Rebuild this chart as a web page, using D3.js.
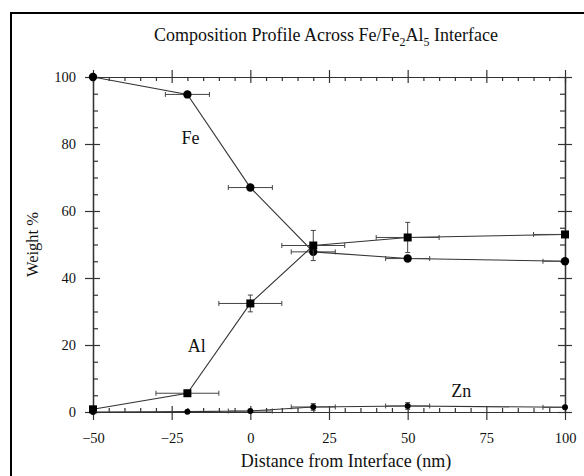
<!DOCTYPE html>
<html>
<head>
<meta charset="utf-8">
<script src="https://cdn.jsdelivr.net/npm/d3@7"></script>
<style>
  body { margin: 0; background: #fff; }
  text { font-family: "Liberation Serif", "Times New Roman", serif; fill: #111; }
  .axis path, .axis line { stroke: #333; stroke-width: 1.2; }
  .axis text { font-size: 14.5px; }
</style>
</head>
<body>
<div id="chart"></div>
<script>
// Data
const distances = [-50, -20, 0, 20, 50, 100];
const feValues = [100, 94.8, 67, 47.8, 45.8, 45];
const alValues = [0.8, 5.6, 32.4, 49.7, 52.1, 53];
const znValues = [0, 0.1, 0.3, 1.5, 1.8, 1.4];
const feXErr = [0, 7, 7, 7, 7, 7];
const feYErr = [0, 0, 0, 0, 0, 0];
const alXErr = [0, 10, 10, 10, 10, 10];
const alYErr = [0, 0, 2.5, 4.5, 4.5, 0];
const znXErr = [0, 0, 7, 7, 7, 7];
const znYErr = [0, 0, 0, 1, 1, 0];
const xTicks = [-50, -25, 0, 25, 50, 75, 100];
const yTicks = [0, 20, 40, 60, 80, 100];

const width = 584;
const height = 476;
const marginLeft = 93;
const marginRight = 19;
const marginTop = 77;
const marginBottom = 64;

const svg = d3.select("#chart")
  .append("svg")
  .attr("width", width)
  .attr("height", height);

// outer frame (only left/top edges fall inside the picture)
svg.append("rect")
  .attr("x", 11).attr("y", 13)
  .attr("width", 620).attr("height", 520)
  .attr("fill", "none").attr("stroke", "#000").attr("stroke-width", 2);

const x = d3.scaleLinear().domain([-50, 100]).range([marginLeft, width - marginRight]);
const y = d3.scaleLinear().domain([0, 100]).range([height - marginBottom, marginTop]);

const xMinor = d3.range(-50, 101, 5).filter(v => !xTicks.includes(v));
const yMinor = d3.range(0, 101, 5).filter(v => !yTicks.includes(v));

const bottomY = y(0), topY = y(100), leftX = x(-50), rightX = x(100);

// bottom axis: labels + crossing major ticks + inward minor ticks
svg.append("g").attr("class", "axis")
  .attr("transform", `translate(0,${bottomY})`)
  .call(d3.axisBottom(x).tickValues(xTicks).tickSize(8).tickSizeOuter(0).tickPadding(13));
svg.append("g").attr("class", "axis")
  .attr("transform", `translate(0,${bottomY})`)
  .call(d3.axisTop(x).tickValues(xTicks).tickSize(6).tickSizeOuter(0).tickFormat(""));
svg.append("g").attr("class", "axis")
  .attr("transform", `translate(0,${bottomY})`)
  .call(d3.axisTop(x).tickValues(xMinor).tickSize(4).tickSizeOuter(0).tickFormat(""));

// top axis
svg.append("g").attr("class", "axis")
  .attr("transform", `translate(0,${topY})`)
  .call(d3.axisTop(x).tickValues(xTicks).tickSize(7).tickSizeOuter(0).tickFormat(""));
svg.append("g").attr("class", "axis")
  .attr("transform", `translate(0,${topY})`)
  .call(d3.axisBottom(x).tickValues(xTicks).tickSize(6).tickSizeOuter(0).tickFormat(""));
svg.append("g").attr("class", "axis")
  .attr("transform", `translate(0,${topY})`)
  .call(d3.axisBottom(x).tickValues(xMinor).tickSize(4).tickSizeOuter(0).tickFormat(""));

// left axis
svg.append("g").attr("class", "axis")
  .attr("transform", `translate(${leftX},0)`)
  .call(d3.axisLeft(y).tickValues(yTicks).tickSize(8).tickSizeOuter(0).tickPadding(9));
svg.append("g").attr("class", "axis")
  .attr("transform", `translate(${leftX},0)`)
  .call(d3.axisRight(y).tickValues(yTicks).tickSize(7).tickSizeOuter(0).tickFormat(""));
svg.append("g").attr("class", "axis")
  .attr("transform", `translate(${leftX},0)`)
  .call(d3.axisRight(y).tickValues(yMinor).tickSize(5).tickSizeOuter(0).tickFormat(""));

// right axis
svg.append("g").attr("class", "axis")
  .attr("transform", `translate(${rightX},0)`)
  .call(d3.axisRight(y).tickValues(yTicks).tickSize(7).tickSizeOuter(0).tickFormat(""));
svg.append("g").attr("class", "axis")
  .attr("transform", `translate(${rightX},0)`)
  .call(d3.axisLeft(y).tickValues(yTicks).tickSize(7).tickSizeOuter(0).tickFormat(""));
svg.append("g").attr("class", "axis")
  .attr("transform", `translate(${rightX},0)`)
  .call(d3.axisLeft(y).tickValues(yMinor).tickSize(5).tickSizeOuter(0).tickFormat(""));

svg.selectAll(".axis .domain").attr("stroke-width", 1.5);

// series
const series = [
  { name: "Fe", values: feValues, xErr: feXErr, yErr: feYErr, shape: "circle" },
  { name: "Al", values: alValues, xErr: alXErr, yErr: alYErr, shape: "square" },
  { name: "Zn", values: znValues, xErr: znXErr, yErr: znYErr, shape: "small" }
];

const line = d3.line().x(d => x(d[0])).y(d => y(d[1]));
const capHalf = 2.5;

series.forEach(s => {
  const pts = distances.map((d, i) => [d, s.values[i], s.xErr[i], s.yErr[i]]);
  const g = svg.append("g");

  g.append("path")
    .datum(pts)
    .attr("d", line)
    .attr("fill", "none")
    .attr("stroke", "#333")
    .attr("stroke-width", 1.1);

  // horizontal error bars
  pts.filter(p => p[2] > 0).forEach(p => {
    const x0 = x(Math.max(-50, p[0] - p[2]));
    const x1 = x(Math.min(100, p[0] + p[2]));
    const yy = y(p[1]);
    g.append("line").attr("x1", x0).attr("x2", x1).attr("y1", yy).attr("y2", yy)
      .attr("stroke", "#444").attr("stroke-width", 1);
    g.append("line").attr("x1", x0).attr("x2", x0).attr("y1", yy - capHalf).attr("y2", yy + capHalf)
      .attr("stroke", "#444").attr("stroke-width", 1);
    if (p[0] + p[2] <= 100) {
      g.append("line").attr("x1", x1).attr("x2", x1).attr("y1", yy - capHalf).attr("y2", yy + capHalf)
        .attr("stroke", "#444").attr("stroke-width", 1);
    }
  });

  // vertical error bars
  pts.filter(p => p[3] > 0).forEach(p => {
    const xx = x(p[0]);
    const y0 = y(p[1] - p[3]);
    const y1 = y(p[1] + p[3]);
    g.append("line").attr("x1", xx).attr("x2", xx).attr("y1", y0).attr("y2", y1)
      .attr("stroke", "#444").attr("stroke-width", 1);
    [y0, y1].forEach(v => {
      g.append("line").attr("x1", xx - capHalf).attr("x2", xx + capHalf).attr("y1", v).attr("y2", v)
        .attr("stroke", "#444").attr("stroke-width", 1);
    });
  });

  // markers
  if (s.shape === "square") {
    g.selectAll("rect").data(pts).enter().append("rect")
      .attr("x", d => x(d[0]) - 4).attr("y", d => y(d[1]) - 4)
      .attr("width", 8).attr("height", 8).attr("fill", "#000");
  } else {
    g.selectAll("circle").data(pts).enter().append("circle")
      .attr("cx", d => x(d[0])).attr("cy", d => y(d[1]))
      .attr("r", s.shape === "circle" ? 4.2 : 3).attr("fill", "#000");
  }
});

// series labels
const labels = [
  { text: "Fe", at: [-19, 80] },
  { text: "Al", at: [-17, 18] },
  { text: "Zn", at: [67, 4.5] }
];
svg.selectAll(".series-label").data(labels).enter().append("text")
  .attr("class", "series-label")
  .attr("x", d => x(d.at[0])).attr("y", d => y(d.at[1]))
  .attr("text-anchor", "middle")
  .style("font-size", "18px")
  .text(d => d.text);

// title with subscripts
const title = svg.append("text")
  .attr("x", (leftX + rightX) / 2 - 3)
  .attr("y", 41)
  .attr("text-anchor", "middle")
  .style("font-size", "18px");
title.append("tspan").text("Composition Profile Across Fe/Fe");
title.append("tspan").attr("dy", 5).style("font-size", "12px").text("2");
title.append("tspan").attr("dy", -5).text("Al");
title.append("tspan").attr("dy", 5).style("font-size", "12px").text("5");
title.append("tspan").attr("dy", -5).text(" Interface");

// axis titles
svg.append("text")
  .attr("x", 346).attr("y", 467)
  .attr("text-anchor", "middle")
  .style("font-size", "18px")
  .text("Distance from Interface (nm)");

svg.append("text")
  .attr("transform", `translate(38,${(topY + bottomY) / 2}) rotate(-90)`)
  .attr("text-anchor", "middle")
  .style("font-size", "16.5px")
  .text("Weight %");
</script>
</body>
</html>
